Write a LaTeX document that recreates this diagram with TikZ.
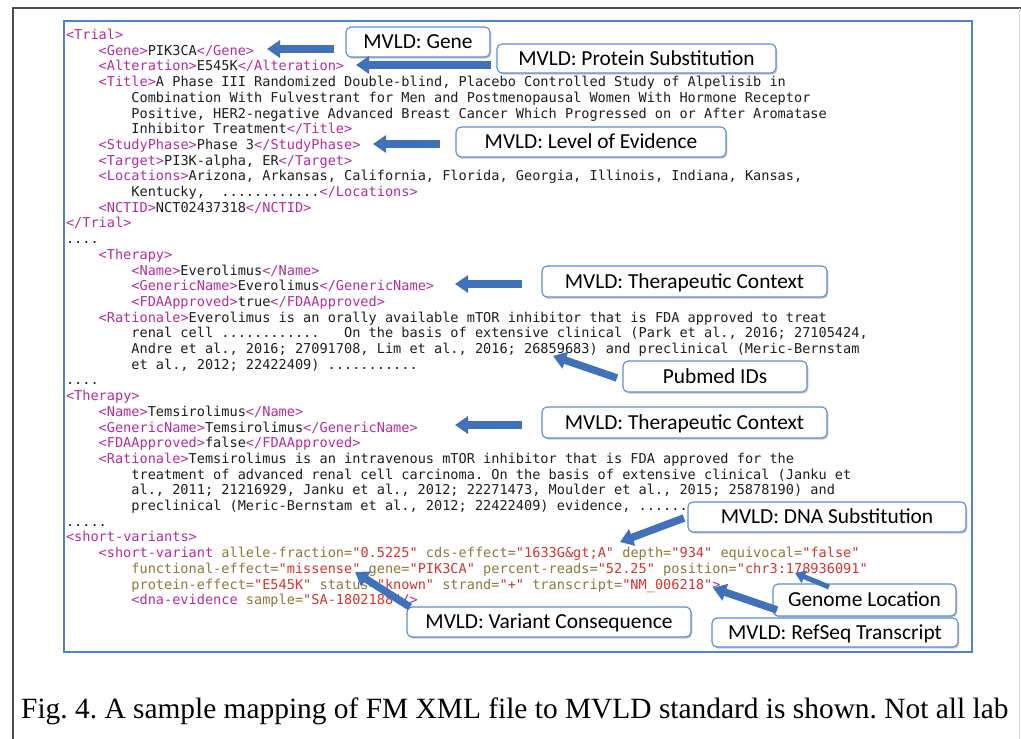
\documentclass[tikz,border=0pt]{standalone}
\usepackage{fontspec}
\setmonofont{DejaVu Sans Mono}[WordSpace={1,0,0}]
\newfontfamily\calfont{Carlito}
\newfontfamily\capfont{Liberation Serif}
\usetikzlibrary{arrows.meta,shadows}
\definecolor{tagc}{HTML}{B52DA0}
\definecolor{attrc}{HTML}{8C7A3C}
\definecolor{valc}{HTML}{D9342B}
\definecolor{txtc}{HTML}{1E1E1E}
\definecolor{framec}{HTML}{5082D2}
\definecolor{boxc}{HTML}{5B8CD2}
\definecolor{arrc}{HTML}{4171B9}
\newcommand\xtag[1]{\textcolor{tagc}{#1}}
\newcommand\xattr[1]{\textcolor{attrc}{#1}}
\newcommand\xval[1]{\textcolor{valc}{#1}}
\newcommand\xl[3]{\node[xmlline] (L#1) at ({66+32.7*#2},{39.5+15.7*#1}) {#3};}
\frenchspacing
\begin{document}
\begin{tikzpicture}[x=1pt,y=-1pt,
  xmlline/.style={anchor=base west, inner sep=0pt, outer sep=0pt, text=txtc,
    font=\ttfamily\fontsize{13.59}{15.7}\selectfont},
  callout/.style={draw=boxc, line width=1.1pt, rounded corners=5pt, fill=white,
    inner sep=0pt, text=black, font=\calfont\fontsize{21.4}{24}\selectfont,
    text height=13.4pt, text depth=0pt,
    drop shadow={shadow xshift=1.3pt, shadow yshift=-1.6pt, opacity=0.22, fill=black}},
  calarrow/.style={draw=arrc, line width=7.5pt, -{Triangle[width=17pt,length=13pt]}},
  thinarrow/.style={draw=arrc, line width=5pt, -{Triangle[width=13pt,length=10pt]}}
]
\useasboundingbox (0,0) rectangle (1021,739);
\fill[white] (0,0) rectangle (1021,739);
% page frame
\draw[line width=1.6pt, draw=black!70] (13,739) -- (13,8) -- (1021,8);
\draw[line width=1pt, draw=black!15] (1019.5,8) -- (1019.5,739);
% blue frame
\draw[line width=1.2pt, draw=framec] (64,21) rectangle (972,652);

% XML text
\xl{0}{0}{\xtag{<Trial>}}
\xl{1}{1}{\xtag{<Gene>}PIK3CA\xtag{</Gene>}}
\xl{2}{1}{\xtag{<Alteration>}E545K\xtag{</Alteration>}}
\xl{3}{1}{\xtag{<Title>}A Phase III Randomized Double-blind, Placebo Controlled Study of Alpelisib in}
\xl{4}{2}{Combination With Fulvestrant for Men and Postmenopausal Women With Hormone Receptor}
\xl{5}{2}{Positive, HER2-negative Advanced Breast Cancer Which Progressed on or After Aromatase}
\xl{6}{2}{Inhibitor Treatment\xtag{</Title>}}
\xl{7}{1}{\xtag{<StudyPhase>}Phase 3\xtag{</StudyPhase>}}
\xl{8}{1}{\xtag{<Target>}PI3K-alpha, ER\xtag{</Target>}}
\xl{9}{1}{\xtag{<Locations>}Arizona, Arkansas, California, Florida, Georgia, Illinois, Indiana, Kansas,}
\xl{10}{2}{Kentucky,\ \ ............\xtag{</Locations>}}
\xl{11}{1}{\xtag{<NCTID>}NCT02437318\xtag{</NCTID>}}
\xl{12}{0}{\xtag{</Trial>}}
\xl{13}{0}{....}
\xl{14}{1}{\xtag{<Therapy>}}
\xl{15}{2}{\xtag{<Name>}Everolimus\xtag{</Name>}}
\xl{16}{2}{\xtag{<GenericName>}Everolimus\xtag{</GenericName>}}
\xl{17}{2}{\xtag{<FDAApproved>}true\xtag{</FDAApproved>}}
\xl{18}{1}{\xtag{<Rationale>}Everolimus is an orally available mTOR inhibitor that is FDA approved to treat}
\xl{19}{2}{renal cell ............\ \ \ On the basis of extensive clinical (Park et al., 2016; 27105424,}
\xl{20}{2}{Andre et al., 2016; 27091708, Lim et al., 2016; 26859683) and preclinical (Meric-Bernstam}
\xl{21}{2}{et al., 2012; 22422409) ...........}
\xl{22}{0}{....}
\xl{23}{0}{\xtag{<Therapy>}}
\xl{24}{1}{\xtag{<Name>}Temsirolimus\xtag{</Name>}}
\xl{25}{1}{\xtag{<GenericName>}Temsirolimus\xtag{</GenericName>}}
\xl{26}{1}{\xtag{<FDAApproved>}false\xtag{</FDAApproved>}}
\xl{27}{1}{\xtag{<Rationale>}Temsirolimus is an intravenous mTOR inhibitor that is FDA approved for the}
\xl{28}{2}{treatment of advanced renal cell carcinoma. On the basis of extensive clinical (Janku et}
\xl{29}{2}{al., 2011; 21216929, Janku et al., 2012; 22271473, Moulder et al., 2015; 25878190) and}
\xl{30}{2}{preclinical (Meric-Bernstam et al., 2012; 22422409) evidence, ......}
\xl{31}{0}{.....}
\xl{32}{0}{\xtag{<short-variants>}}
\xl{33}{1}{\xtag{<short-variant} \xattr{allele-fraction=}\xval{"0.5225"} \xattr{cds-effect=}\xval{"1633G\&gt;A"} \xattr{depth=}\xval{"934"} \xattr{equivocal=}\xval{"false"}}
\xl{34}{2}{\xattr{functional-effect=}\xval{"missense"} \xattr{gene=}\xval{"PIK3CA"} \xattr{percent-reads=}\xval{"52.25"} \xattr{position=}\xval{"chr3:178936091"}}
\xl{35}{2}{\xattr{protein-effect=}\xval{"E545K"} \xattr{status=}\xval{"known"} \xattr{strand=}\xval{"+"} \xattr{transcript=}\xval{"NM\_006218"}\xtag{>}}
\xl{36}{2}{\xtag{<dna-evidence} \xattr{sample=}\xval{"SA-1802188"}\xtag{/>}}

% callout boxes
\node[callout, minimum width=144pt, minimum height=30pt] (gene) at (418,42) {MVLD: Gene};
\node[callout, minimum width=279pt, minimum height=29pt] (prot) at (636.5,58.5) {MVLD: Protein Substitution};
\node[callout, minimum width=270pt, minimum height=30pt] (level) at (591,142) {MVLD: Level of Evidence};
\node[callout, minimum width=285pt, minimum height=31pt] (tcA) at (684.5,281.5) {MVLD: Therapeutic Context};
\node[callout, minimum width=184pt, minimum height=31pt] (pubmed) at (715,376.5) {Pubmed IDs};
\node[callout, minimum width=285pt, minimum height=31pt] (tcB) at (684.5,422.5) {MVLD: Therapeutic Context};
\node[callout, minimum width=278pt, minimum height=30pt] (dna) at (827,517) {MVLD: DNA Substitution};
\node[callout, minimum width=183pt, minimum height=32pt] (genome) at (864.5,600) {Genome Location};
\node[callout, minimum width=246pt, minimum height=29pt] (refseq) at (835,632.5) {MVLD: RefSeq Transcript};
\node[callout, minimum width=284pt, minimum height=30pt] (varcons) at (549,622) {MVLD: Variant Consequence};

% arrow end points
\coordinate (geneTail) at (334,49);   \coordinate (geneTip) at (267,49);
\coordinate (protTail) at (491,65);   \coordinate (protTip) at (356,65);
\coordinate (levelTail) at (440,144); \coordinate (levelTip) at (373,144);
\coordinate (tcATail) at (522,284);   \coordinate (tcATip) at (455,284);
\coordinate (pubTail) at (617,378);   \coordinate (pubTip) at (553,356);
\coordinate (tcBTail) at (522,425);   \coordinate (tcBTip) at (455,425);
\coordinate (dnaTail) at (684,518);   \coordinate (dnaTip) at (620,542);
\coordinate (genTail) at (829,587);   \coordinate (genTip) at (795,573);
\coordinate (refTail) at (777,610);   \coordinate (refTip) at (713,588);
\coordinate (varTail) at (410,607);   \coordinate (varTip) at (355,572);

% arrows
\draw[calarrow] (geneTail) -- (geneTip);
\draw[calarrow] (protTail) -- (protTip);
\draw[calarrow] (levelTail) -- (levelTip);
\draw[calarrow] (tcATail) -- (tcATip);
\draw[calarrow] (pubTail) -- (pubTip);
\draw[calarrow] (tcBTail) -- (tcBTip);
\draw[calarrow] (dnaTail) -- (dnaTip);
\draw[thinarrow] (genTail) -- (genTip);
\draw[calarrow] (refTail) -- (refTip);
\draw[calarrow] (varTail) -- (varTip);

% caption
\node[anchor=base west, inner sep=0pt, text=black, font=\capfont\fontsize{29.4}{32}\selectfont] (caption) at (21,718) {Fig. 4. A sample mapping of FM XML file to MVLD standard is shown. Not all lab};
\end{tikzpicture}
\end{document}
